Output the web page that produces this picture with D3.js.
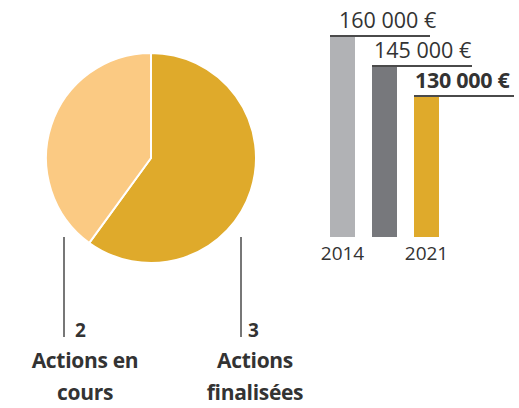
<!DOCTYPE html>
<html>
<head>
<meta charset="utf-8">
<script src="https://cdn.jsdelivr.net/npm/d3@7"></script>
<style>
  body { margin: 0; background: #fff; }
  svg { display: block; font-family: 'Open Sans', sans-serif; }
</style>
</head>
<body>
<svg id="chart" width="519" height="408"></svg>
<script>
// pie: number of actions
const pieLabels = [['Actions', 'finalisées'], ['Actions en', 'cours']];
const pieValues = [3, 2];
const pieColors = ['#dfaa2b', '#fbca83'];

// bars: budget per year
const barYears = ['2014', '', '2021'];
const barValues = [160000, 145000, 130000];
const barLabels = ['160 000 €', '145 000 €', '130 000 €'];
const barColors = ['#b1b2b5', '#77787c', '#dfaa2b'];

const svg = d3.select('#chart');
const ink = '#333';

// ---- pie ------------------------------------------------------------
const cx = 151, cy = 158, r = 105;
const pie = d3.pie().sort(null).value((d) => d);
const arc = d3.arc().innerRadius(0).outerRadius(r);
const slices = pie(pieValues);

const gPie = svg.append('g').attr('transform', `translate(${cx},${cy})`);
gPie.selectAll('path')
    .data(slices)
    .join('path')
    .attr('d', arc)
    .attr('fill', (d, i) => pieColors[i])
    .attr('stroke', '#fff')
    .attr('stroke-width', 2);

// leader lines + labels, one under each side of the pie
const leaders = [
  {x: 241, num: 248, cx: 255},  // finalisées (right)
  {x: 64, num: 75, cx: 85},     // en cours (left)
];
leaders.forEach((l, i) => {
  svg.append('line')
      .attr('x1', l.x).attr('x2', l.x)
      .attr('y1', 237).attr('y2', 337)
      .attr('stroke', '#777').attr('stroke-width', 2);
  svg.append('text')
      .attr('x', l.num).attr('y', 337)
      .attr('font-size', 19).attr('font-weight', 700)
      .attr('fill', ink)
      .text(pieValues[i]);
  const t = svg.append('text')
      .attr('text-anchor', 'middle')
      .attr('font-size', 21).attr('font-weight', 700)
      .attr('letter-spacing', -0.3)
      .attr('fill', ink);
  pieLabels[i].forEach((line, j) => {
    t.append('tspan')
        .attr('x', l.cx).attr('y', 368 + j * 32)
        .text(line);
  });
});

// ---- bars -----------------------------------------------------------
const x = d3.scaleBand()
    .domain(d3.range(barValues.length))
    .range([330, 439])
    .paddingInner(17 / 42)
    .paddingOuter(0);
const y = d3.scaleLinear()
    .domain([60000, 160000])
    .range([237, 37]);

const gBar = svg.append('g');
gBar.selectAll('rect')
    .data(barValues)
    .join('rect')
    .attr('x', (d, i) => x(i))
    .attr('y', (d) => y(d))
    .attr('width', x.bandwidth())
    .attr('height', (d) => y.range()[0] - y(d))
    .attr('fill', (d, i) => barColors[i]);

// rule across the top of each bar
gBar.selectAll('line')
    .data(barValues)
    .join('line')
    .attr('x1', (d, i) => x(i))
    .attr('x2', (d, i) => x(i) + 100)
    .attr('y1', (d) => y(d) - 1)
    .attr('y2', (d) => y(d) - 1)
    .attr('stroke', '#4a4a4a')
    .attr('stroke-width', 2);

const labelShift = [9, 2, 1];
gBar.selectAll('text.val')
    .data(barValues)
    .join('text')
    .attr('class', 'val')
    .attr('x', (d, i) => x(i) + labelShift[i])
    .attr('y', (d) => y(d) - 9)
    .attr('font-size', 21.5)
    .attr('font-weight', (d, i) => i === barValues.length - 1 ? 700 : 400)
    .attr('letter-spacing', (d, i) => i === barValues.length - 1 ? -0.3 : 0)
    .attr('fill', ink)
    .text((d, i) => barLabels[i]);

gBar.selectAll('text.year')
    .data(barYears)
    .join('text')
    .attr('class', 'year')
    .attr('x', (d, i) => x(i) + x.bandwidth() / 2)
    .attr('y', 260)
    .attr('text-anchor', 'middle')
    .attr('font-size', 19)
    .attr('fill', ink)
    .text((d) => d);
</script>
</body>
</html>
